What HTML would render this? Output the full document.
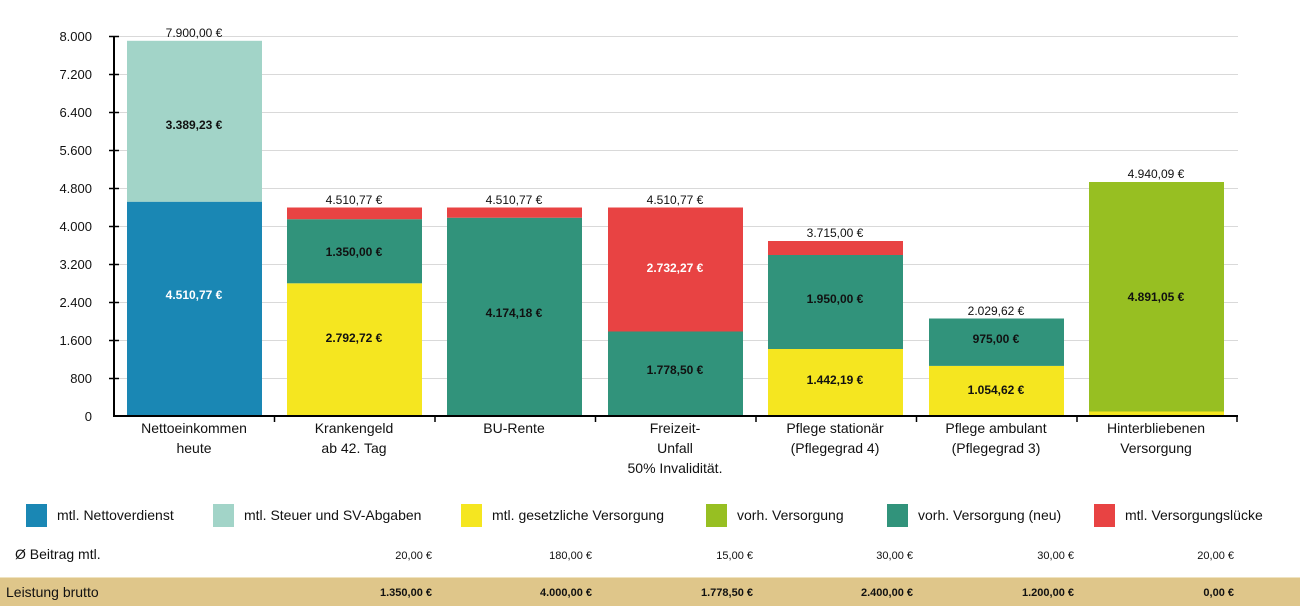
<!DOCTYPE html>
<html><head><meta charset="utf-8"><style>
body{margin:0;background:#fff;width:1300px;height:606px;overflow:hidden;font-family:"Liberation Sans",sans-serif;}
</style></head><body>
<svg width="1300" height="606" xmlns="http://www.w3.org/2000/svg" font-family="Liberation Sans, sans-serif">
<g stroke="#d9d9d9" stroke-width="1">
<line x1="114" x2="1238" y1="36.5" y2="36.5"/><line x1="114" x2="1238" y1="74.5" y2="74.5"/>
<line x1="114" x2="1238" y1="112.5" y2="112.5"/><line x1="114" x2="1238" y1="150.5" y2="150.5"/>
<line x1="114" x2="1238" y1="188.5" y2="188.5"/><line x1="114" x2="1238" y1="226.5" y2="226.5"/>
<line x1="114" x2="1238" y1="264.5" y2="264.5"/><line x1="114" x2="1238" y1="302.5" y2="302.5"/>
<line x1="114" x2="1238" y1="340.5" y2="340.5"/><line x1="114" x2="1238" y1="378.5" y2="378.5"/>
</g>
<!-- bars -->
<rect x="127" y="201.7" width="135" height="214.3" fill="#1a87b4"/>
<rect x="127" y="40.8" width="135" height="160.9" fill="#a2d4c8"/>
<rect x="287" y="283.3" width="135" height="132.7" fill="#f5e620"/>
<rect x="287" y="219.2" width="135" height="64.1" fill="#31937b"/>
<rect x="287" y="207.5" width="135" height="11.7" fill="#e84343"/>
<rect x="447" y="217.7" width="135" height="198.3" fill="#31937b"/>
<rect x="447" y="207.5" width="135" height="10.2" fill="#e84343"/>
<rect x="608" y="331.5" width="135" height="84.5" fill="#31937b"/>
<rect x="608" y="207.5" width="135" height="124" fill="#e84343"/>
<rect x="768" y="349" width="135" height="67" fill="#f5e620"/>
<rect x="768" y="255" width="135" height="94" fill="#31937b"/>
<rect x="768" y="241" width="135" height="14" fill="#e84343"/>
<rect x="929" y="365.9" width="135" height="50.1" fill="#f5e620"/>
<rect x="929" y="318.5" width="135" height="47.4" fill="#31937b"/>
<rect x="1089" y="411.5" width="135" height="4.5" fill="#f5e620"/>
<rect x="1089" y="182" width="135" height="229.5" fill="#97bf22"/>
<!-- axes -->
<g stroke="#000" stroke-width="2">
<line x1="114" y1="36" x2="114" y2="417"/>
<line x1="113" y1="416" x2="1238" y2="416"/>
</g>
<g stroke="#000" stroke-width="1.5">
<line x1="109" x2="119" y1="36.5" y2="36.5"/><line x1="109" x2="119" y1="74.5" y2="74.5"/>
<line x1="109" x2="119" y1="112.5" y2="112.5"/><line x1="109" x2="119" y1="150.5" y2="150.5"/>
<line x1="109" x2="119" y1="188.5" y2="188.5"/><line x1="109" x2="119" y1="226.5" y2="226.5"/>
<line x1="109" x2="119" y1="264.5" y2="264.5"/><line x1="109" x2="119" y1="302.5" y2="302.5"/>
<line x1="109" x2="119" y1="340.5" y2="340.5"/><line x1="109" x2="119" y1="378.5" y2="378.5"/>
<line x1="274.5" x2="274.5" y1="416" y2="422"/><line x1="435" x2="435" y1="416" y2="422"/>
<line x1="595.5" x2="595.5" y1="416" y2="422"/><line x1="756" x2="756" y1="416" y2="422"/>
<line x1="916.5" x2="916.5" y1="416" y2="422"/><line x1="1077" x2="1077" y1="416" y2="422"/>
<line x1="1237" x2="1237" y1="416" y2="422"/>
</g>
<g font-size="13" text-anchor="end" fill="#111">
<text x="92" y="41">8.000</text><text x="92" y="79">7.200</text><text x="92" y="117">6.400</text>
<text x="92" y="155">5.600</text><text x="92" y="193">4.800</text><text x="92" y="231">4.000</text>
<text x="92" y="269">3.200</text><text x="92" y="307">2.400</text><text x="92" y="345">1.600</text>
<text x="92" y="383">800</text><text x="92" y="421">0</text>
</g>
<g font-size="12" text-anchor="middle" fill="#111">
<text x="194" y="37">7.900,00 €</text><text x="354" y="204">4.510,77 €</text>
<text x="514" y="204">4.510,77 €</text><text x="675" y="204">4.510,77 €</text>
<text x="835" y="237">3.715,00 €</text><text x="996" y="315">2.029,62 €</text>
<text x="1156" y="178">4.940,09 €</text>
</g>
<g font-size="12" font-weight="bold" text-anchor="middle">
<text x="194" y="129" fill="#111">3.389,23 €</text>
<text x="194" y="299" fill="#fff">4.510,77 €</text>
<text x="354" y="256" fill="#111">1.350,00 €</text>
<text x="354" y="342" fill="#111">2.792,72 €</text>
<text x="514" y="317" fill="#111">4.174,18 €</text>
<text x="675" y="272" fill="#fff">2.732,27 €</text>
<text x="675" y="374" fill="#111">1.778,50 €</text>
<text x="835" y="303" fill="#111">1.950,00 €</text>
<text x="835" y="384" fill="#111">1.442,19 €</text>
<text x="996" y="343" fill="#111">975,00 €</text>
<text x="996" y="394" fill="#111">1.054,62 €</text>
<text x="1156" y="301" fill="#111">4.891,05 €</text>
</g>
<g font-size="14" text-anchor="middle" fill="#111">
<text x="194" y="433">Nettoeinkommen</text><text x="194" y="453">heute</text>
<text x="354" y="433">Krankengeld</text><text x="354" y="453">ab 42. Tag</text>
<text x="514" y="433">BU-Rente</text>
<text x="675" y="433">Freizeit-</text><text x="675" y="453">Unfall</text><text x="675" y="473">50% Invalidität.</text>
<text x="835" y="433">Pflege stationär</text><text x="835" y="453">(Pflegegrad 4)</text>
<text x="996" y="433">Pflege ambulant</text><text x="996" y="453">(Pflegegrad 3)</text>
<text x="1156" y="433">Hinterbliebenen</text><text x="1156" y="453">Versorgung</text>
</g>
<rect x="26" y="504" width="21" height="23" fill="#1a87b4"/>
<rect x="213" y="504" width="21" height="23" fill="#a2d4c8"/>
<rect x="461" y="504" width="21" height="23" fill="#f5e620"/>
<rect x="706" y="504" width="21" height="23" fill="#97bf22"/>
<rect x="887" y="504" width="21" height="23" fill="#31937b"/>
<rect x="1094" y="504" width="21" height="23" fill="#e84343"/>
<g font-size="14" fill="#111">
<text x="57" y="520">mtl. Nettoverdienst</text>
<text x="244" y="520">mtl. Steuer und SV-Abgaben</text>
<text x="492" y="520">mtl. gesetzliche Versorgung</text>
<text x="737" y="520">vorh. Versorgung</text>
<text x="918" y="520">vorh. Versorgung (neu)</text>
<text x="1125" y="520">mtl. Versorgungslücke</text>
<text x="15" y="559">Ø Beitrag mtl.</text>
</g>
<rect x="0" y="577" width="1300" height="29" fill="#dfc68a"/>
<line x1="0" y1="577.5" x2="1300" y2="577.5" stroke="#efe3c0"/>
<text x="6" y="597" font-size="14" fill="#111">Leistung brutto</text>
<g font-size="11" text-anchor="end" fill="#111">
<text x="432" y="559">20,00 €</text><text x="592" y="559">180,00 €</text><text x="753" y="559">15,00 €</text>
<text x="913" y="559">30,00 €</text><text x="1074" y="559">30,00 €</text><text x="1234" y="559">20,00 €</text>
</g>
<g font-size="11" font-weight="bold" text-anchor="end" fill="#111">
<text x="432" y="596">1.350,00 €</text><text x="592" y="596">4.000,00 €</text><text x="753" y="596">1.778,50 €</text>
<text x="913" y="596">2.400,00 €</text><text x="1074" y="596">1.200,00 €</text><text x="1234" y="596">0,00 €</text>
</g>
</svg>
</body></html>
